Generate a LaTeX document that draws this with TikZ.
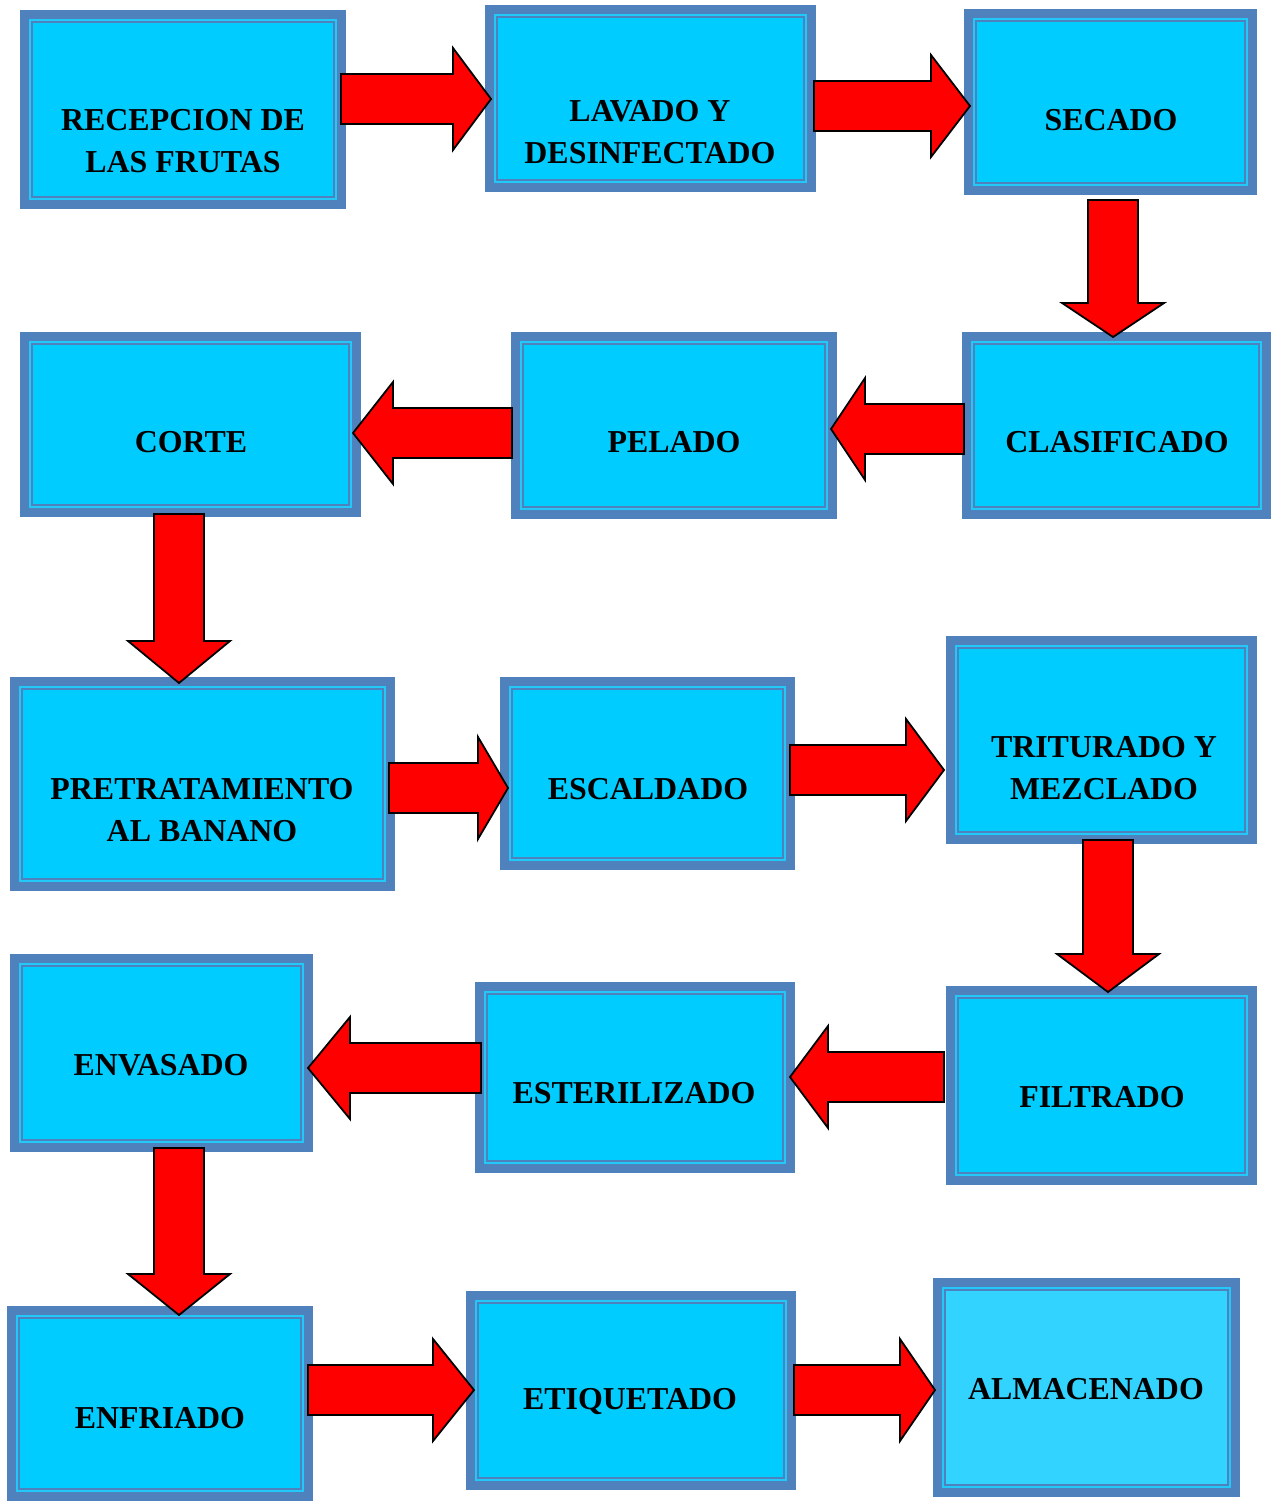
\documentclass[tikz,border=0pt]{standalone}
\usepackage{fontspec}
\setmainfont{Liberation Serif}
\usetikzlibrary{calc}
\definecolor{boxblue}{HTML}{4F81BD}
\definecolor{boxfill}{HTML}{00CCFF}
\definecolor{boxline}{HTML}{22C8F8}
\definecolor{boxfilllight}{HTML}{33D3FF}
\definecolor{arrowred}{HTML}{FF0000}
\tikzset{
  stepbox/.style={fill=boxblue, inner sep=0pt, outer sep=0pt,
    path picture={
      \fill[boxline] ($(path picture bounding box.south west)+(9pt,9pt)$) rectangle ($(path picture bounding box.north east)+(-9pt,-9pt)$);
      \fill[boxblue] ($(path picture bounding box.south west)+(11pt,11pt)$) rectangle ($(path picture bounding box.north east)+(-11pt,-11pt)$);
      \fill[#1] ($(path picture bounding box.south west)+(13pt,13pt)$) rectangle ($(path picture bounding box.north east)+(-13pt,-13pt)$);
    }},
  stepbox/.default=boxfill,
  steptext/.style={align=center, inner sep=0pt, font=\fontsize{31.9}{42.5}\selectfont\bfseries},
  redarrow/.style={fill=arrowred, draw=black, line width=1.8pt, line join=miter}
}
\newcommand\barr[3]{%
  \coordinate (neck) at ($(#2)!#3!(#1)$);
  \draw[redarrow] ($(#1)!25pt!90:(#2)$) -- ($(neck)!25pt!90:(#2)$) -- ($(neck)!51pt!90:(#2)$) -- (#2)
    -- ($(neck)!51pt!-90:(#2)$) -- ($(neck)!25pt!-90:(#2)$) -- ($(#1)!25pt!-90:(#2)$) -- cycle;}
\begin{document}
\begin{tikzpicture}[x=1pt,y=-1pt]
\useasboundingbox (0,0) rectangle (1276,1501);
% boxes
\node[stepbox, minimum width=326pt, minimum height=199pt] (rec) at (183,109.5) {};
\node[stepbox, minimum width=331pt, minimum height=187pt] (lav) at (650.5,98.5) {};
\node[stepbox, minimum width=293pt, minimum height=186pt] (sec) at (1110.5,102) {};
\node[stepbox, minimum width=309pt, minimum height=187pt] (cla) at (1116.5,425.5) {};
\node[stepbox, minimum width=326pt, minimum height=187pt] (pel) at (674,425.5) {};
\node[stepbox, minimum width=341pt, minimum height=185pt] (cor) at (190.5,424.5) {};
\node[stepbox, minimum width=385pt, minimum height=214pt] (pre) at (202.5,784) {};
\node[stepbox, minimum width=295pt, minimum height=193pt] (esc) at (647.5,773.5) {};
\node[stepbox, minimum width=311pt, minimum height=208pt] (tri) at (1101.5,740) {};
\node[stepbox, minimum width=311pt, minimum height=199pt] (fil) at (1101.5,1085.5) {};
\node[stepbox, minimum width=320pt, minimum height=191pt] (est) at (635,1077.5) {};
\node[stepbox, minimum width=303pt, minimum height=198pt] (env) at (161.5,1053) {};
\node[stepbox, minimum width=306pt, minimum height=195pt] (enf) at (160,1403.5) {};
\node[stepbox, minimum width=330pt, minimum height=199pt] (eti) at (631,1390.5) {};
\node[stepbox=boxfilllight, minimum width=307pt, minimum height=219pt] (alm) at (1086.5,1387.5) {};
% texts
\node[steptext] (rec-t) at (183,141) {RECEPCION DE\\LAS FRUTAS};
\node[steptext] (lav-t) at (650,132) {LAVADO Y\\DESINFECTADO};
\node[steptext] (sec-t) at (1111,120) {SECADO};
\node[steptext] (cla-t) at (1117,442) {CLASIFICADO};
\node[steptext] (pel-t) at (674,442) {PELADO};
\node[steptext] (cor-t) at (191,442) {CORTE};
\node[steptext] (pre-t) at (202,810) {PRETRATAMIENTO\\AL BANANO};
\node[steptext] (esc-t) at (648,789) {ESCALDADO};
\node[steptext] (tri-t) at (1104,768) {TRITURADO Y\\MEZCLADO};
\node[steptext] (fil-t) at (1102,1097) {FILTRADO};
\node[steptext] (est-t) at (634,1093) {ESTERILIZADO};
\node[steptext] (env-t) at (161,1065) {ENVASADO};
\node[steptext] (enf-t) at (160,1418) {ENFRIADO};
\node[steptext] (eti-t) at (630,1402) {ETIQUETADO};
\node[steptext] (alm-t) at (1086,1389) {ALMACENADO};
% arrow end points
\coordinate (a1s) at (341,99);   \coordinate (a1e) at (491,99);
\coordinate (a2s) at (814,106);  \coordinate (a2e) at (970,106);
\coordinate (a3s) at (1113,200); \coordinate (a3e) at (1113,337);
\coordinate (a4s) at (964,429);  \coordinate (a4e) at (831,429);
\coordinate (a5s) at (512,433);  \coordinate (a5e) at (353,433);
\coordinate (a6s) at (179,514);  \coordinate (a6e) at (179,683);
\coordinate (a7s) at (389,788);  \coordinate (a7e) at (508,788);
\coordinate (a8s) at (790,770);  \coordinate (a8e) at (944,770);
\coordinate (a9s) at (1108,840); \coordinate (a9e) at (1108,992);
\coordinate (a10s) at (944,1077); \coordinate (a10e) at (790,1077);
\coordinate (a11s) at (481,1068); \coordinate (a11e) at (308,1068);
\coordinate (a12s) at (179,1148); \coordinate (a12e) at (179,1315);
\coordinate (a13s) at (308,1390); \coordinate (a13e) at (474,1390);
\coordinate (a14s) at (794,1390); \coordinate (a14e) at (935,1390);
% arrows
\barr{a1s}{a1e}{38pt}
\barr{a2s}{a2e}{39pt}
\barr{a3s}{a3e}{34pt}
\barr{a4s}{a4e}{34pt}
\barr{a5s}{a5e}{40pt}
\barr{a6s}{a6e}{42pt}
\barr{a7s}{a7e}{30pt}
\barr{a8s}{a8e}{38pt}
\barr{a9s}{a9e}{38pt}
\barr{a10s}{a10e}{38pt}
\barr{a11s}{a11e}{42pt}
\barr{a12s}{a12e}{41pt}
\barr{a13s}{a13e}{41pt}
\barr{a14s}{a14e}{35pt}
\end{tikzpicture}
\end{document}
